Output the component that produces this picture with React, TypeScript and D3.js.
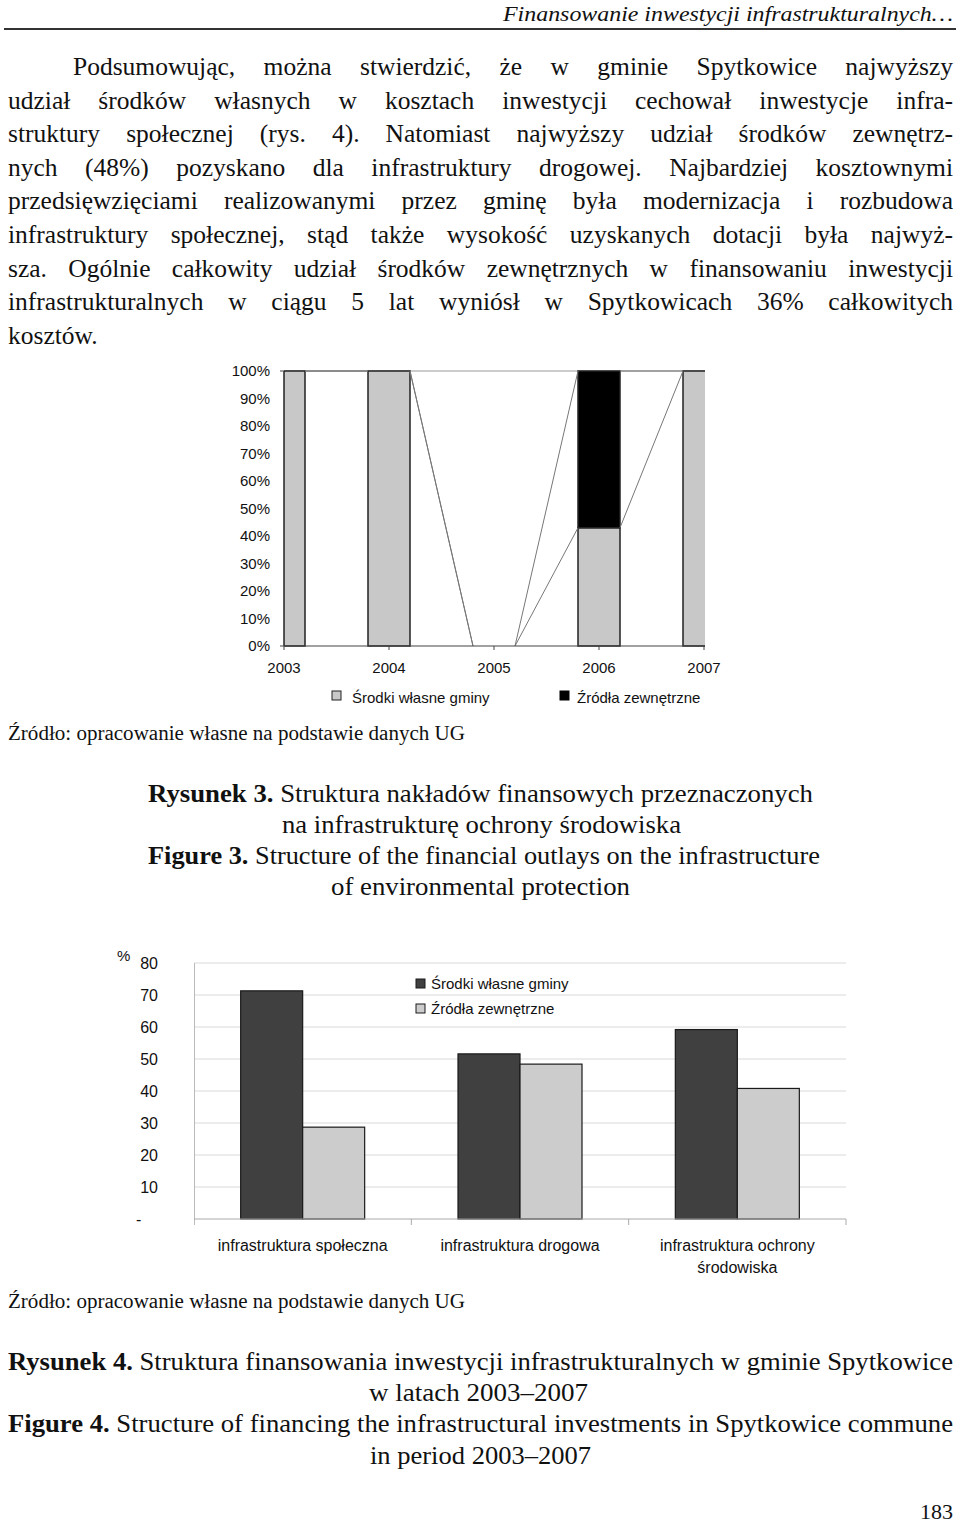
import { useEffect, useRef } from "react";
import * as d3 from "d3";

// Rysunek 3 – stacked 100% columns
const years = ["2003", "2004", "2005", "2006", "2007"];
const ownShare = [100, 100, 0, 43, 100];
const extShare = [0, 0, 0, 57, 0];
const pctTicks = [0, 10, 20, 30, 40, 50, 60, 70, 80, 90, 100];

// Rysunek 4 – grouped columns
const categories = [
  ["infrastruktura społeczna"],
  ["infrastruktura drogowa"],
  ["infrastruktura ochrony", "środowiska"],
];
const ownFunds = [71.3, 51.6, 59.2];
const extFunds = [28.7, 48.4, 40.8];
const valTicks = [0, 10, 20, 30, 40, 50, 60, 70, 80];
const seriesNames = ["Środki własne gminy", "Źródła zewnętrzne"];

const bodyLines = [
  "Podsumowując, można stwierdzić, że w gminie Spytkowice najwyższy",
  "udział środków własnych w kosztach inwestycji cechował inwestycje infra-",
  "struktury społecznej (rys. 4). Natomiast najwyższy udział środków zewnętrz-",
  "nych (48%) pozyskano dla infrastruktury drogowej. Najbardziej kosztownymi",
  "przedsięwzięciami realizowanymi przez gminę była modernizacja i rozbudowa",
  "infrastruktury społecznej, stąd także wysokość uzyskanych dotacji była najwyż-",
  "sza. Ogólnie całkowity udział środków zewnętrznych w finansowaniu inwestycji",
  "infrastrukturalnych w ciągu 5 lat wyniósł w Spytkowicach 36% całkowitych",
  "kosztów.",
];

const SERIF = "'Liberation Serif', 'Times New Roman', serif";
const SANS = "'Liberation Sans', Arial, sans-serif";

export default function App() {
  const svgRef = useRef<SVGSVGElement>(null);

  // justify body lines by spreading word spacing
  useEffect(() => {
    if (!svgRef.current) return;
    d3.select(svgRef.current)
      .selectAll<SVGTextElement, unknown>("text.justify")
      .each(function () {
        const target = +(this.getAttribute("data-w") || 0);
        this.setAttribute("word-spacing", "0");
        const w = this.getComputedTextLength();
        const spaces = (this.textContent || "").split(" ").length - 1;
        if (spaces > 0) this.setAttribute("word-spacing", String((target - w) / spaces));
      });
  }, []);

  // top chart scales
  const x1 = d3.scalePoint<string>().domain(years).range([284, 704]);
  const y1 = d3.scaleLinear().domain([0, 100]).range([646, 371]);
  const bw1 = 42;
  const stack = years.map((yr, i) => ({ yr, own: ownShare[i], tot: ownShare[i] + extShare[i] }));

  // connector lines between stacked segment tops
  const connectors: [number, number, number, number][] = [];
  for (let i = 0; i < stack.length - 1; i++) {
    const a = stack[i];
    const b = stack[i + 1];
    const xa = (x1(a.yr) ?? 0) + bw1 / 2;
    const xb = (x1(b.yr) ?? 0) - bw1 / 2;
    connectors.push([xa, y1(a.own), xb, y1(b.own)]);
    connectors.push([xa, y1(a.tot), xb, y1(b.tot)]);
  }

  // bottom chart scales
  const catKeys = categories.map((c) => c.join(" "));
  const x2 = d3.scaleBand<string>().domain(catKeys).range([194, 846]);
  const xs = d3.scaleBand<string>().domain(["own", "ext"]).range([0, 124]);
  const groupOff = (x2.bandwidth() - 124) / 2;
  const y2 = d3.scaleLinear().domain([0, 80]).range([1219, 963]);

  return (
    <svg
      ref={svgRef}
      width={960}
      height={1527}
      style={{ position: "absolute", left: 0, top: 0, background: "#fff" }}
    >
      <rect width={960} height={1527} fill="#fff" />

      {/* running header */}
      <text
        x={953}
        y={21}
        textAnchor="end"
        fontFamily={SERIF}
        fontStyle="italic"
        fontSize={22}
        textLength={450}
        lengthAdjust="spacingAndGlyphs"
        fill="#111"
      >
        Finansowanie inwestycji infrastrukturalnych…
      </text>
      <line x1={4} x2={956} y1={29} y2={29} stroke="#333" strokeWidth={2} />

      {/* body paragraph */}
      {bodyLines.map((ln, i) => {
        const last = i === bodyLines.length - 1;
        const x = i === 0 ? 73 : 8;
        return (
          <text
            key={i}
            className={last ? undefined : "justify"}
            data-w={953 - x}
            x={x}
            y={75 + i * 33.6}
            fontFamily={SERIF}
            fontSize={25.5}
            fill="#111"
          >
            {ln}
          </text>
        );
      })}

      {/* ===== Rysunek 3 ===== */}
      <defs>
        <clipPath id="plot1">
          <rect x={284} y={360} width={421} height={290} />
        </clipPath>
      </defs>
      <line x1={284} x2={705} y1={y1(100)} y2={y1(100)} stroke="#999" strokeWidth={1} />
      <g clipPath="url(#plot1)">
        {stack.map((d) => {
          const cx = x1(d.yr) ?? 0;
          return (
            <g key={d.yr}>
              {d.own > 0 && (
                <rect
                  x={cx - bw1 / 2}
                  y={y1(d.own)}
                  width={bw1}
                  height={y1(0) - y1(d.own)}
                  fill="#c8c8c8"
                  stroke="#222"
                  strokeWidth={1.5}
                />
              )}
              {d.tot > d.own && (
                <rect
                  x={cx - bw1 / 2}
                  y={y1(d.tot)}
                  width={bw1}
                  height={y1(d.own) - y1(d.tot)}
                  fill="#000"
                  stroke="#222"
                  strokeWidth={1.5}
                />
              )}
            </g>
          );
        })}
      </g>
      {connectors.map(([a, b, c, e], i) => (
        <line key={i} x1={a} y1={b} x2={c} y2={e} stroke="#777" strokeWidth={1} />
      ))}
      <line x1={284} x2={284} y1={y1(100)} y2={y1(0)} stroke="#222" strokeWidth={1.5} />
      <line x1={280} x2={705} y1={y1(0)} y2={y1(0)} stroke="#444" strokeWidth={1.2} />
      <line x1={280} x2={284} y1={y1(100)} y2={y1(100)} stroke="#444" strokeWidth={1} />
      {years.map((yr) => (
        <g key={yr}>
          <line x1={x1(yr)} x2={x1(yr)} y1={y1(0)} y2={y1(0) + 4} stroke="#444" />
          <text
            x={x1(yr)}
            y={673}
            textAnchor="middle"
            fontFamily={SANS}
            fontSize={15}
            fill="#111"
          >
            {yr}
          </text>
        </g>
      ))}
      {pctTicks.map((t) => (
        <text
          key={t}
          x={270}
          y={y1(t) + 5}
          textAnchor="end"
          fontFamily={SANS}
          fontSize={15}
          fill="#111"
        >
          {t}%
        </text>
      ))}
      {/* legend */}
      <rect x={332} y={691} width={9} height={9} fill="#c8c8c8" stroke="#222" />
      <text x={352} y={703} fontFamily={SANS} fontSize={15} fill="#111">
        {seriesNames[0]}
      </text>
      <rect x={560} y={691} width={9} height={9} fill="#000" stroke="#000" />
      <text x={577} y={703} fontFamily={SANS} fontSize={15} fill="#111">
        {seriesNames[1]}
      </text>

      <text x={8} y={740} fontFamily={SERIF} fontSize={20} textLength={457} lengthAdjust="spacingAndGlyphs" fill="#111">
        Źródło: opracowanie własne na podstawie danych UG
      </text>

      {/* caption 3 */}
      <g fontFamily={SERIF} fontSize={26} fill="#111">
        <text x={148} y={802} textLength={665} lengthAdjust="spacingAndGlyphs">
          <tspan fontWeight="bold">Rysunek 3.</tspan> Struktura nakładów finansowych przeznaczonych
        </text>
        <text x={282} y={833} textLength={399} lengthAdjust="spacingAndGlyphs">
          na infrastrukturę ochrony środowiska
        </text>
        <text x={148} y={864} textLength={672} lengthAdjust="spacingAndGlyphs">
          <tspan fontWeight="bold">Figure 3.</tspan> Structure of the financial outlays on the infrastructure
        </text>
        <text x={331} y={895} textLength={299} lengthAdjust="spacingAndGlyphs">
          of environmental protection
        </text>
      </g>

      {/* ===== Rysunek 4 ===== */}
      {valTicks.map((t) => (
        <g key={t}>
          {t > 0 && (
            <line x1={194} x2={846} y1={y2(t)} y2={y2(t)} stroke="#d9d9d9" strokeWidth={1} />
          )}
          {t > 0 ? (
            <text
              x={158}
              y={y2(t) + 6}
              textAnchor="end"
              fontFamily={SANS}
              fontSize={16}
              fill="#111"
            >
              {t}
            </text>
          ) : (
            <text x={136} y={y2(t) + 6} fontFamily={SANS} fontSize={16} fill="#111">
              -
            </text>
          )}
        </g>
      ))}
      <text x={117} y={961} fontFamily={SANS} fontSize={15} fill="#111">
        %
      </text>
      <line x1={194.5} x2={194.5} y1={y2(80)} y2={y2(0) + 6} stroke="#bbb" />
      {categories.map((c, i) => {
        const key = catKeys[i];
        const gx = (x2(key) ?? 0) + groupOff;
        const cx = (x2(key) ?? 0) + x2.bandwidth() / 2;
        return (
          <g key={key}>
            <rect
              x={gx + (xs("own") ?? 0)}
              y={y2(ownFunds[i])}
              width={xs.bandwidth()}
              height={y2(0) - y2(ownFunds[i])}
              fill="#404040"
              stroke="#1a1a1a"
              strokeWidth={1.2}
            />
            <rect
              x={gx + (xs("ext") ?? 0)}
              y={y2(extFunds[i])}
              width={xs.bandwidth()}
              height={y2(0) - y2(extFunds[i])}
              fill="#cccccc"
              stroke="#1a1a1a"
              strokeWidth={1.2}
            />
            <line
              x1={(x2(key) ?? 0) + x2.bandwidth()}
              x2={(x2(key) ?? 0) + x2.bandwidth()}
              y1={y2(0)}
              y2={y2(0) + 6}
              stroke="#aaa"
            />
            {c.map((ln, j) => (
              <text
                key={j}
                x={cx}
                y={1251 + j * 22}
                textAnchor="middle"
                fontFamily={SANS}
                fontSize={16}
                fill="#111"
              >
                {ln}
              </text>
            ))}
          </g>
        );
      })}
      <line x1={194} x2={846} y1={y2(0)} y2={y2(0)} stroke="#aaa" strokeWidth={1} />
      {/* legend */}
      <rect x={416} y={979} width={9} height={9} fill="#404040" stroke="#1a1a1a" />
      <text x={431} y={989} fontFamily={SANS} fontSize={15} fill="#111">
        {seriesNames[0]}
      </text>
      <rect x={416} y={1004} width={9} height={9} fill="#cccccc" stroke="#1a1a1a" />
      <text x={431} y={1014} fontFamily={SANS} fontSize={15} fill="#111">
        {seriesNames[1]}
      </text>

      <text x={8} y={1308} fontFamily={SERIF} fontSize={20} textLength={457} lengthAdjust="spacingAndGlyphs" fill="#111">
        Źródło: opracowanie własne na podstawie danych UG
      </text>

      {/* caption 4 */}
      <g fontFamily={SERIF} fontSize={26} fill="#111">
        <text x={8} y={1370} textLength={945} lengthAdjust="spacingAndGlyphs">
          <tspan fontWeight="bold">Rysunek 4.</tspan> Struktura finansowania inwestycji infrastrukturalnych w gminie Spytkowice
        </text>
        <text x={369} y={1401} textLength={219} lengthAdjust="spacingAndGlyphs">
          w latach 2003–2007
        </text>
        <text x={8} y={1432} textLength={945} lengthAdjust="spacingAndGlyphs">
          <tspan fontWeight="bold">Figure 4.</tspan> Structure of financing the infrastructural investments in Spytkowice commune
        </text>
        <text x={370} y={1464} textLength={221} lengthAdjust="spacingAndGlyphs">
          in period 2003–2007
        </text>
      </g>

      <text x={953} y={1519} textAnchor="end" fontFamily={SERIF} fontSize={22} fill="#111">
        183
      </text>
    </svg>
  );
}
